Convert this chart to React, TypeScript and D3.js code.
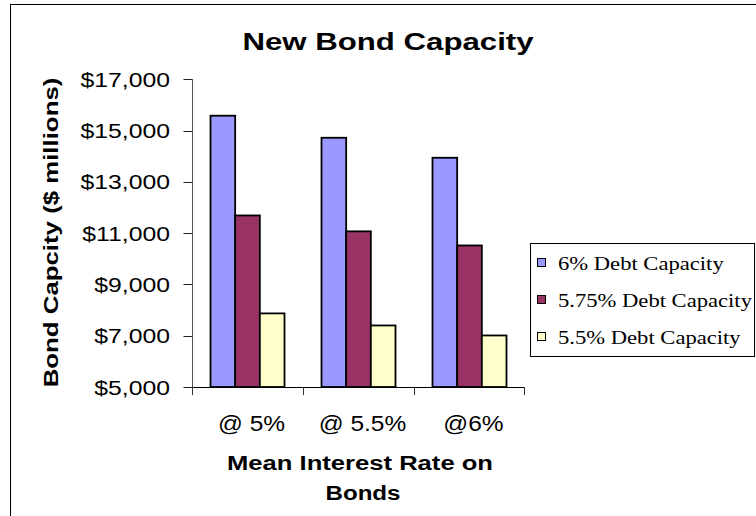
import React from "react";
import * as d3 from "d3";

const categories = ["@ 5%", "@ 5.5%", "@6%"];
const seriesNames = ["6% Debt Capacity", "5.75% Debt Capacity", "5.5% Debt Capacity"];
const debt6 = [15580, 14720, 13940];
const debt575 = [11690, 11070, 10520];
const debt55 = [7870, 7400, 7010];
const yTicks = [5000, 7000, 9000, 11000, 13000, 15000, 17000];
const seriesColors = ["#9999FF", "#993366", "#FFFFCC"];

const W = 756;
const H = 516;
const plot = { left: 192, right: 525, top: 79.3, bottom: 387 };
const ARIAL = "'Liberation Sans', Arial, sans-serif";
const TIMES = "'Liberation Serif', 'Times New Roman', serif";

export default function App() {
  const seriesValues = [debt6, debt575, debt55];
  const y = d3.scaleLinear().domain([5000, 17000]).range([plot.bottom, plot.top]);
  const x0 = d3.scaleBand<string>().domain(categories).range([plot.left, plot.right]).padding(0);
  const bw = x0.bandwidth();
  const gap = (bw * 1.5) / 4.5;
  const x1 = d3
    .scaleBand<string>()
    .domain(seriesNames)
    .range([gap / 2, bw - gap / 2])
    .padding(0);
  const fmt = (v: number) => "$" + d3.format(",")(v);

  return (
    <svg
      width={W}
      height={H}
      style={{ position: "absolute", left: 0, top: 0, background: "#fff" }}
    >
      <rect x={0} y={0} width={W} height={H} fill="#fff" />
      <rect x={10.5} y={4.5} width={780} height={540} fill="none" stroke="#000" strokeWidth={1} />

      {/* title */}
      <text
        transform={`translate(388,50) scale(1.3,1)`}
        textAnchor="middle"
        fontFamily={ARIAL}
        fontWeight="bold"
        fontSize={24}
        fill="#000"
      >
        New Bond Capacity
      </text>

      {/* bars */}
      {categories.map((c, ci) => (
        <g key={c} transform={`translate(${x0(c)},0)`}>
          {seriesNames.map((s, si) => {
            const v = seriesValues[si][ci];
            return (
              <rect
                key={s}
                x={x1(s)}
                y={y(v)}
                width={x1.bandwidth()}
                height={y(5000) - y(v)}
                fill={seriesColors[si]}
                stroke="#000"
                strokeWidth={1.8}
              />
            );
          })}
        </g>
      ))}

      {/* y axis */}
      <line x1={plot.left + 0.5} x2={plot.left + 0.5} y1={plot.top} y2={plot.bottom} stroke="#555" strokeWidth={1} />
      {yTicks.map((t) => (
        <g key={t}>
          <line x1={plot.left - 8.5} x2={plot.left + 0.5} y1={Math.round(y(t)) + 0.5} y2={Math.round(y(t)) + 0.5} stroke="#222" strokeWidth={1} />
          <text
            transform={`translate(170,${y(t) + 7.5}) scale(1.18,1)`}
            textAnchor="end"
            fontFamily={ARIAL}
            fontSize={21}
            fill="#000"
          >
            {fmt(t)}
          </text>
        </g>
      ))}

      {/* x axis */}
      <line x1={plot.left} x2={plot.right} y1={plot.bottom + 0.5} y2={plot.bottom + 0.5} stroke="#000" strokeWidth={1} />
      {categories.map((c) => (
        <line
          key={"t" + c}
          x1={(x0(c) as number) + 0.5}
          x2={(x0(c) as number) + 0.5}
          y1={plot.bottom}
          y2={plot.bottom + 8}
          stroke="#333"
          strokeWidth={1}
        />
      ))}
      <line x1={plot.right - 0.5} x2={plot.right - 0.5} y1={plot.bottom} y2={plot.bottom + 8} stroke="#333" strokeWidth={1} />
      {categories.map((c) => (
        <text
          key={"l" + c}
          transform={`translate(${(x0(c) as number) + bw / 2 + 4},431) scale(1.14,1)`}
          textAnchor="middle"
          fontFamily={ARIAL}
          fontSize={21.5}
          fill="#000"
        >
          {c}
        </text>
      ))}

      {/* x axis title */}
      <text
        transform={`translate(360,470) scale(1.22,1)`}
        textAnchor="middle"
        fontFamily={ARIAL}
        fontWeight="bold"
        fontSize={21}
        fill="#000"
      >
        Mean Interest Rate on
      </text>
      <text
        transform={`translate(363,500) scale(1.15,1)`}
        textAnchor="middle"
        fontFamily={ARIAL}
        fontWeight="bold"
        fontSize={21}
        fill="#000"
      >
        Bonds
      </text>

      {/* y axis title */}
      <text
        transform={`translate(57.5,232.5) rotate(-90) scale(1.23,1)`}
        textAnchor="middle"
        fontFamily={ARIAL}
        fontWeight="bold"
        fontSize={21}
        fill="#000"
      >
        Bond Capcity ($ millions)
      </text>

      {/* legend */}
      <rect x={530.5} y={243.5} width={224} height={113} fill="#fff" stroke="#000" strokeWidth={1} />
      {seriesNames.map((s, i) => (
        <g key={"lg" + s} transform={`translate(0,${263 + i * 37})`}>
          <rect x={537.5} y={-4.5} width={8} height={8} fill={seriesColors[i]} stroke="#000" strokeWidth={1} />
          <text
            transform={`translate(558,6.5) scale(1.19,1)`}
            fontFamily={TIMES}
            fontSize={19}
            fill="#000"
          >
            {s}
          </text>
        </g>
      ))}
    </svg>
  );
}
